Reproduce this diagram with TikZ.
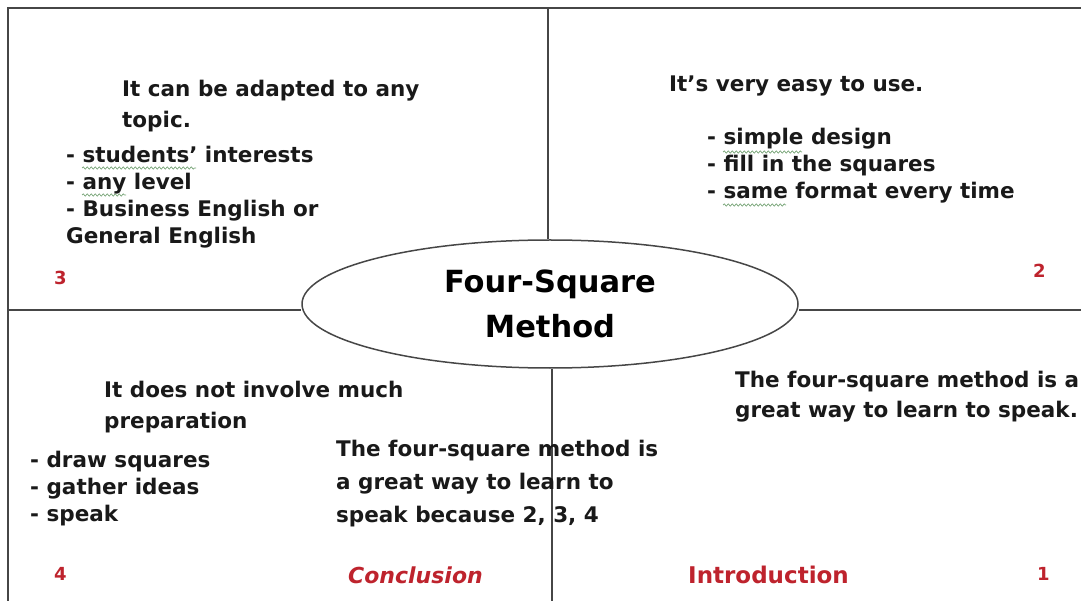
\documentclass[tikz,border=0pt]{standalone}
\usepackage{fontspec}
\setmainfont{DejaVu Sans}
\usepackage{xcolor}
\usetikzlibrary{positioning,shapes.geometric,decorations.pathmorphing}
\definecolor{inkgray}{RGB}{70,70,70}
\definecolor{labelred}{RGB}{190,35,45}
\definecolor{squiggreen}{RGB}{120,165,120}

\begin{document}
\begin{tikzpicture}[x=1pt, y=-1pt,
  rule/.style={draw=inkgray, line width=1.4pt},
  squiggle/.style={draw=squiggreen, line width=0.7pt, decorate, decoration={snake, segment length=4pt, amplitude=1.1pt}},
  txt/.style={anchor=base west, inner sep=0pt, align=left, text=black!90, font=\fontsize{21.5}{#1}\selectfont\bfseries},
  txt/.default=27,
  num/.style={anchor=base west, inner sep=0pt, text=labelred, font=\fontsize{18}{18}\selectfont\bfseries},
  tag/.style={anchor=base west, inner sep=0pt, text=labelred, font=\fontsize{23}{22}\selectfont\bfseries},
  slanttag/.style={tag, font=\fontsize{22}{22}\selectfont\bfseries\itshape},
  hub/.style={draw=inkgray, line width=1.5pt, ellipse, minimum width=496pt, minimum height=128pt, inner sep=0pt, align=center, font=\fontsize{30.5}{45}\selectfont\bfseries}
]
\useasboundingbox (0,0) rectangle (1081,601);
\coordinate (topleft) at (8,8);
\coordinate (topright) at (1081,8);
\coordinate (botleft) at (8,601);
\coordinate (topmid) at (548,8);
\coordinate (botmid) at (552,601);
\coordinate (leftmid) at (8,310);
\coordinate (rightmid) at (1081,310);
\node[hub] (hub) at (550,304) {Four-Square\\Method};

\draw[rule] (botleft) -- (topleft) -- (topright);
\draw[rule] (topmid) -- (topmid |- hub.north);
\draw[rule] (botmid) -- (botmid |- hub.south);
\draw[rule] (leftmid) -- (leftmid -| hub.west);
\draw[rule] (rightmid) -- (rightmid -| hub.east);

\node[txt=31] (adapt) at (122,128) {It can be adapted to any\\topic.};
\node[txt] (adaptlist) at (66,244) {- students’ interests\\- any level\\- Business English or\\General English};
\node[num] (n3) at (54,285) {3};
\draw[squiggle] (82,168) -- (196,168);
\draw[squiggle] (82,195) -- (126,195);

\node[txt] (easy) at (669,92) {It’s very easy to use.};
\node[txt] (easylist) at (707,199) {- simple design\\- fill in the squares\\- same format every time};
\node[num] (n2) at (1033,278) {2};
\draw[squiggle] (723,152) -- (802,152);
\draw[squiggle] (723,205) -- (786,205);

\node[txt=31] (prep) at (104,428) {It does not involve much\\preparation};
\node[txt] (preplist) at (30,521) {- draw squares\\- gather ideas\\- speak};
\node[num] (n4) at (54,580) {4};

\node[txt=33] (because) at (336,522) {The four-square method is\\a great way to learn to\\speak because 2, 3, 4};
\node[slanttag] (conclusion) at (348,583) {Conclusion};

\node[txt=30] (intro) at (735,417) {The four-square method is a\\great way to learn to speak.};
\node[tag] (introduction) at (688,583) {Introduction};
\node[num] (n1) at (1037,580) {1};
\end{tikzpicture}
\end{document}
